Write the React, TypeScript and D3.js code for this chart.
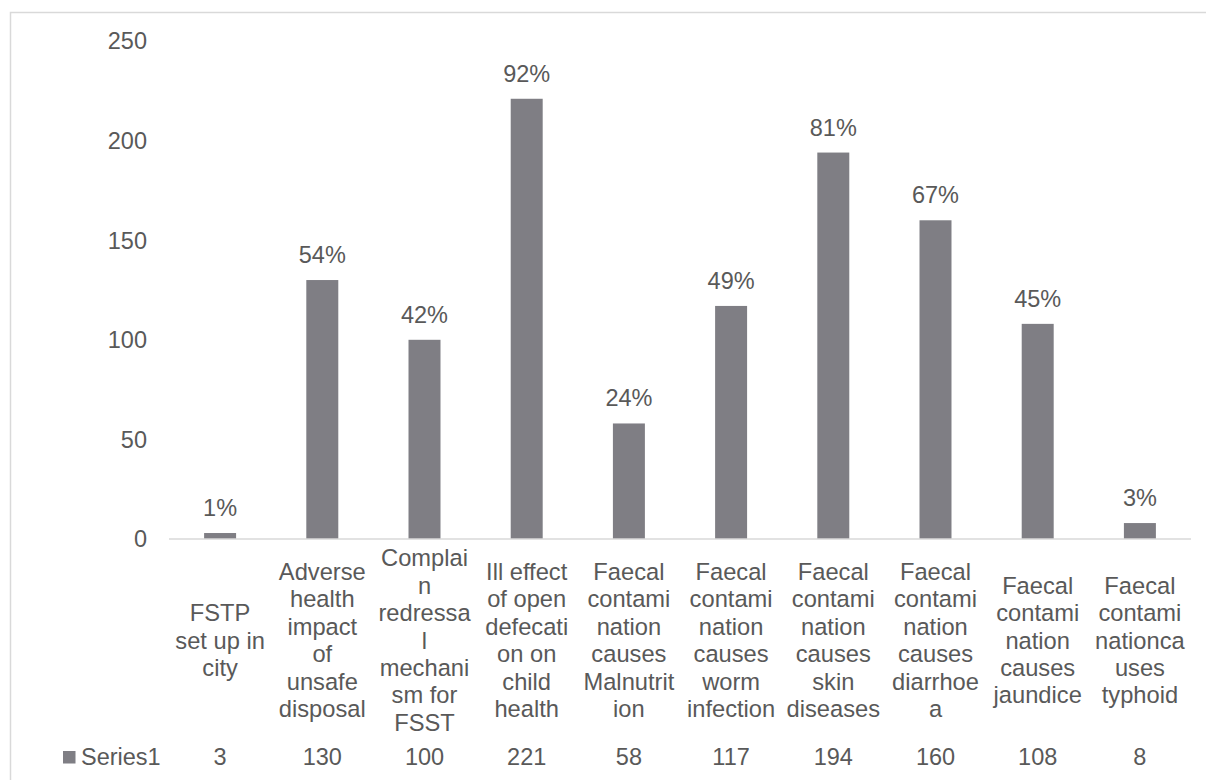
import React from "react";
import * as d3 from "d3";

const categoryLines: string[][] = [
  ["FSTP", "set up in", "city"],
  ["Adverse", "health", "impact", "of", "unsafe", "disposal"],
  ["Complai", "n", "redressa", "l", "mechani", "sm for", "FSST"],
  ["Ill effect", "of open", "defecati", "on on", "child", "health"],
  ["Faecal", "contami", "nation", "causes", "Malnutrit", "ion"],
  ["Faecal", "contami", "nation", "causes", "worm", "infection"],
  ["Faecal", "contami", "nation", "causes", "skin", "diseases"],
  ["Faecal", "contami", "nation", "causes", "diarrhoe", "a"],
  ["Faecal", "contami", "nation", "causes", "jaundice"],
  ["Faecal", "contami", "nationca", "uses", "typhoid"],
];
const categories: string[] = categoryLines.map((l) => l.join(" "));
const values: number[] = [3, 130, 100, 221, 58, 117, 194, 160, 108, 8];
const percentLabels: string[] = ["1%", "54%", "42%", "92%", "24%", "49%", "81%", "67%", "45%", "3%"];
const yTicks: number[] = [0, 50, 100, 150, 200, 250];
const seriesName = "Series1";

const W = 1206;
const H = 780;
const FONT = "'Liberation Sans', Arial, sans-serif";
const TEXT = "#595959";
const BAR = "#7f7e84";
const LINE = "#d9d9d9";

export default function App() {
  const x = d3
    .scaleBand<string>()
    .domain(categories)
    .range([169, 1191])
    .paddingInner(0.687)
    .paddingOuter(0.3435);
  const y = d3.scaleLinear().domain([0, 250]).range([539, 41]);
  const catMid = 640;
  const lineH = 27.4;
  const tableY = 757;

  return (
    <svg
      width={W}
      height={H}
      style={{ position: "absolute", left: 0, top: 0, background: "#fff" }}
      fontFamily={FONT}
    >
      <rect x={0} y={0} width={W} height={H} fill="#fff" />
      {/* chart border */}
      <path d={`M10.5,${H + 2} V12.5 H${W + 2}`} fill="none" stroke={LINE} strokeWidth={1.5} />

      {/* y tick labels */}
      {yTicks.map((t) => (
        <text key={t} x={147} y={y(t)} dy="0.36em" textAnchor="end" fontSize={23.5} fill={TEXT}>
          {t}
        </text>
      ))}

      {/* bars */}
      {categories.map((c, i) => (
        <rect key={c} x={x(c)} y={y(values[i])} width={x.bandwidth()} height={y(0) - y(values[i])} fill={BAR} />
      ))}

      {/* axis line */}
      <line x1={169} x2={1191} y1={y(0)} y2={y(0)} stroke={LINE} strokeWidth={1.5} />

      {/* data labels */}
      {categories.map((c, i) => (
        <text
          key={c}
          x={(x(c) as number) + x.bandwidth() / 2}
          y={y(values[i]) - 17}
          textAnchor="middle"
          fontSize={23.5}
          fill={TEXT}
        >
          {percentLabels[i]}
        </text>
      ))}

      {/* category labels */}
      {categories.map((c, i) => {
        const cx = (x(c) as number) + x.bandwidth() / 2;
        const lines = categoryLines[i];
        const top = catMid - ((lines.length - 1) * lineH) / 2;
        return (
          <text key={c} textAnchor="middle" fontSize={23.7} fill={TEXT}>
            {lines.map((l, j) => (
              <tspan key={j} x={cx} y={top + j * lineH} dy="0.36em">
                {l}
              </tspan>
            ))}
          </text>
        );
      })}

      {/* data table row */}
      <rect x={63} y={751} width={12.5} height={12.5} fill={BAR} />
      <text x={81} y={tableY} dy="0.36em" fontSize={23.5} fill={TEXT}>
        {seriesName}
      </text>
      {categories.map((c, i) => (
        <text
          key={c}
          x={(x(c) as number) + x.bandwidth() / 2}
          y={tableY}
          dy="0.36em"
          textAnchor="middle"
          fontSize={23.5}
          fill={TEXT}
        >
          {values[i]}
        </text>
      ))}
    </svg>
  );
}
